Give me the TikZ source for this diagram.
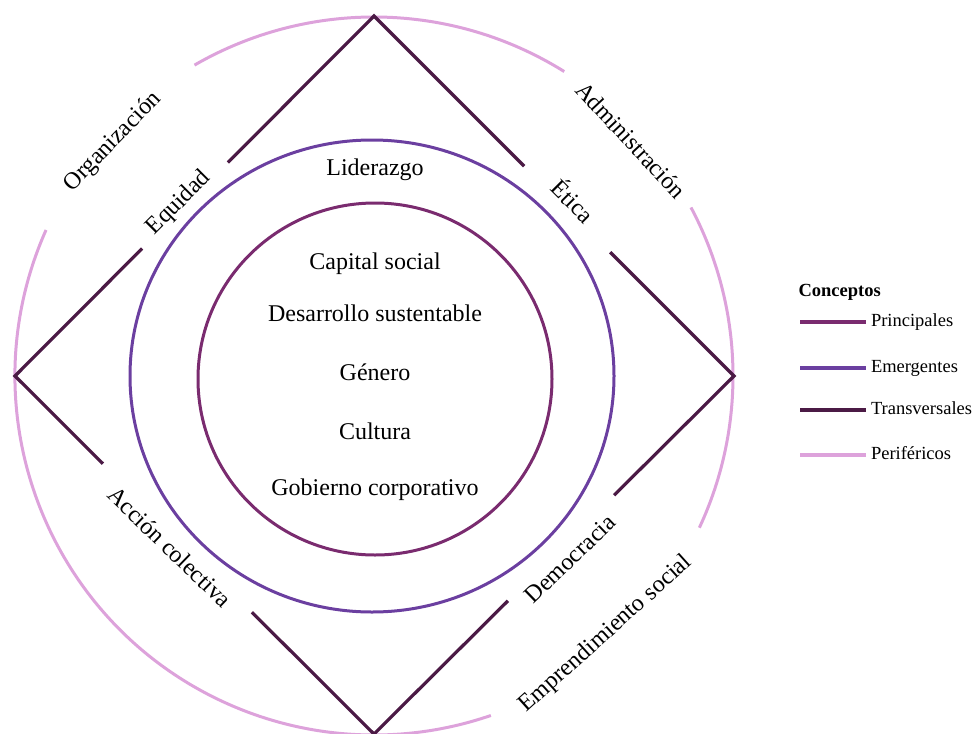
\documentclass[tikz,border=0pt]{standalone}
\usepackage{fontspec}
\setmainfont{Liberation Serif}
\usetikzlibrary{positioning,calc}

\definecolor{principal}{HTML}{7A2B6F}
\definecolor{emergente}{HTML}{6B3FA0}
\definecolor{transversal}{HTML}{4B1A45}
\definecolor{periferico}{HTML}{DDA2DB}

\begin{document}
\begin{tikzpicture}[x=1pt,y=-1pt,line width=3pt,
                    every node/.style={inner sep=0pt,font=\fontsize{24}{28}\selectfont}]
  \tikzstyle{concept}=[anchor=base]
  \tikzstyle{key}=[text=black,font=\fontsize{18.5}{21}\selectfont,anchor=base west,xshift=3pt,yshift=-4pt]
  \tikzstyle{diamond line}=[transversal,line width=3.2pt,line join=miter]
\useasboundingbox (0,0) rectangle (978,734);

\coordinate (c) at (374,376);
\coordinate (T) at (374,16);
\coordinate (L) at (15,376);
\coordinate (R) at (734,376);
\coordinate (B) at (374,734);

% circles
\draw[periferico] (c) ++(-120:359) arc[start angle=-120,end angle=-58,radius=359];
\draw[periferico] (c) ++(-28:359) arc[start angle=-28,end angle=25,radius=359];
\draw[periferico] (c) ++(-156:359) arc[start angle=-156,end angle=-289,radius=359];
\draw[emergente] (372,376) ellipse[x radius=242,y radius=236];
\draw[principal] (375,379) ellipse[x radius=177,y radius=176];

% diamond
\path (T) -- (L) coordinate[pos=0.407] (eqA) coordinate[pos=0.646] (eqB);
\path (T) -- (R) coordinate[pos=0.417] (etA) coordinate[pos=0.656] (etB);
\path (R) -- (B) coordinate[pos=0.333] (deA) coordinate[pos=0.628] (deB);
\path (L) -- (B) coordinate[pos=0.245] (acA) coordinate[pos=0.66] (acB);
\draw[diamond line] (eqA) -- (T) -- (etA);
\draw[diamond line] (etB) -- (R) -- (deA);
\draw[diamond line] (deB) -- (B) -- (acB);
\draw[diamond line] (acA) -- (L) -- (eqB);

\node[rotate=46] (organizacion) at (113,142) {Organización};
\node[rotate=-47] (administracion) at (631,140) {Administración};
\node[rotate=42] (emprendimiento) at (606,634) {Emprendimiento social};
\node[rotate=45] (equidad) at (179,203) {Equidad};
\node[rotate=-45] (etica) at (574,200) {Ética};
\node[rotate=44] (democracia) at (570,559) {Democracia};
\node[rotate=-44] (accion) at (170,547) {Acción colectiva};

\node[concept] (liderazgo) at (375,175) {Liderazgo};
\node[concept] (capital) at (375,269) {Capital social};
\node[concept] (desarrollo) at (375,321) {Desarrollo sustentable};
\node[concept] (genero) at (375,380) {Género};
\node[concept] (cultura) at (375,439) {Cultura};
\node[concept] (gobierno) at (375,495) {Gobierno corporativo};

% legend
\node[anchor=base west,font=\fontsize{18.5}{21}\selectfont\bfseries] (conceptos) at (797,296) {Conceptos};
\foreach \col/\txt/\yy [count=\i] in {principal/Principales/322,emergente/Emergentes/368,
    transversal/Transversales/410,periferico/Periféricos/455}
  \draw[\col,line width=4pt] (800,\yy) -- (866,\yy) node[key] (key\i) {\txt};

	\end{tikzpicture}
\end{document}
